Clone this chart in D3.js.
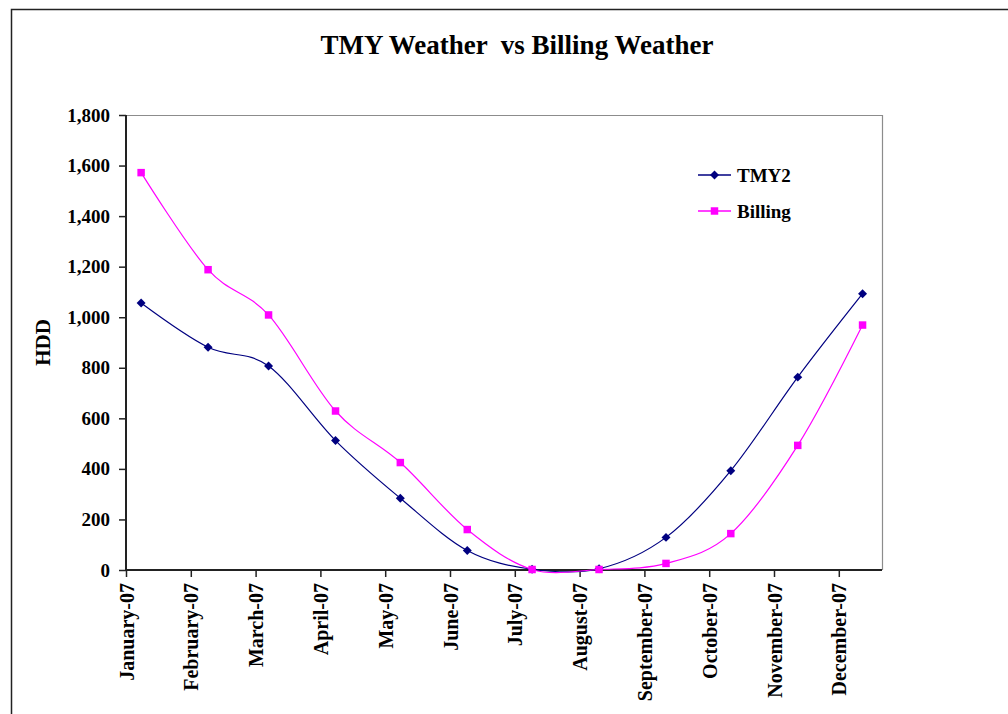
<!DOCTYPE html>
<html>
<head>
<meta charset="utf-8">
<script src="https://cdn.jsdelivr.net/npm/d3@7"></script>
<style>
  body { margin: 0; background: #fff; }
  svg text { font-family: "Liberation Serif", "Times New Roman", serif; font-weight: bold; fill: #000; }
</style>
</head>
<body>
<svg id="chart" width="1008" height="714"></svg>
<script>
// billing readings are dated mid-month; the axis steps every 30 days
const readDates = ['2007-01-15', '2007-02-15', '2007-03-15', '2007-04-15', '2007-05-15', '2007-06-15',
  '2007-07-15', '2007-08-15', '2007-09-15', '2007-10-15', '2007-11-15', '2007-12-15'];
const tmy2 = [1056, 881, 807, 512, 284, 77, 3, 5, 129, 393, 763, 1093];
const billing = [1572, 1188, 1009, 629, 425, 160, 2, 2, 26, 144, 493, 969];
const yTicks = [0, 200, 400, 600, 800, 1000, 1200, 1400, 1600, 1800];
const axisStart = '2007-01-08';
const axisEnd = '2007-12-24';
const tickStepDays = 30;

const parse = d3.utcParse('%Y-%m-%d');
const svg = d3.select('#chart');

const plot = { left: 126, top: 115, right: 882, bottom: 570 };

// outer chart frame (runs off the right and bottom of the picture)
svg.append('rect')
  .attr('x', 11.5).attr('y', 9.5)
  .attr('width', 1020).attr('height', 720)
  .attr('fill', 'none').attr('stroke', '#222').attr('stroke-width', 1.5);

svg.append('text')
  .attr('x', 517).attr('y', 54)
  .attr('text-anchor', 'middle')
  .style('font-size', '27px')
  .attr('xml:space', 'preserve')
  .text('TMY Weather  vs Billing Weather');

const x = d3.scaleUtc()
  .domain([parse(axisStart), parse(axisEnd)])
  .range([plot.left, plot.right]);

const y = d3.scaleLinear()
  .domain([0, 1800])
  .range([plot.bottom, plot.top]);

const xTickDates = d3.utcDay.every(1).range(parse(axisStart), parse(axisEnd))
  .filter(function (d, i) { return i % tickStepDays === 0; });

// plot area frame: grey top and right
svg.append('path')
  .attr('d', `M${plot.left},${plot.top + 0.5}H${plot.right + 0.5}V${plot.bottom}`)
  .attr('fill', 'none').attr('stroke', '#8c8c8c').attr('stroke-width', 1.2);

const yAxis = svg.append('g')
  .attr('transform', `translate(${plot.left},0)`)
  .call(d3.axisLeft(y).tickValues(yTicks).tickSize(7).tickPadding(9).tickFormat(d3.format(',')));

const xAxis = svg.append('g')
  .attr('transform', `translate(0,${plot.bottom})`)
  .call(d3.axisBottom(x).tickValues(xTickDates).tickSize(7).tickFormat(d3.utcFormat('%B-%y')));

[yAxis, xAxis].forEach(function (g) {
  g.select('.domain').attr('stroke', '#222').attr('stroke-width', 2);
  g.selectAll('.tick line').attr('stroke', '#222').attr('stroke-width', 1.5);
  g.selectAll('text').style('font-size', '19px').attr('fill', '#000');
});
yAxis.select('.domain').attr('d', `M0,${plot.top}V${plot.bottom}`);
xAxis.select('.domain').attr('d', `M${plot.left},0H${plot.right}`);

xAxis.selectAll('text')
  .style('font-size', '20px')
  .attr('text-anchor', 'end')
  .attr('transform', 'rotate(-90)')
  .attr('x', -13)
  .attr('y', 0)
  .attr('dy', '0.35em');

svg.append('text')
  .attr('transform', `translate(50,${(plot.top + plot.bottom) / 2}) rotate(-90)`)
  .attr('text-anchor', 'middle')
  .style('font-size', '21px')
  .text('HDD');

// Excel-style markers: diamond is a square turned 45 degrees
const series = [
  { name: 'TMY2', values: tmy2, color: '#000080', size: 40, turn: 45 },
  { name: 'Billing', values: billing, color: '#ff00ff', size: 56, turn: 0 }
];

const line = d3.line()
  .x(function (d) { return x(d.date); })
  .y(function (d) { return y(d.value); })
  .curve(d3.curveCardinal.tension(0));

series.forEach(function (s) {
  const pts = s.values.map(function (v, i) { return { date: parse(readDates[i]), value: v }; });
  svg.append('path')
    .datum(pts)
    .attr('d', line)
    .attr('fill', 'none')
    .attr('stroke', s.color)
    .attr('stroke-width', 1.2);
  svg.append('g').selectAll('path')
    .data(pts)
    .enter().append('path')
    .attr('transform', function (d) { return `translate(${x(d.date)},${y(d.value)}) rotate(${s.turn})`; })
    .attr('d', d3.symbol().type(d3.symbolSquare).size(s.size))
    .attr('fill', s.color);
});

// legend
const legend = svg.append('g').attr('transform', 'translate(698,175)');
series.forEach(function (s, i) {
  const row = legend.append('g').attr('transform', `translate(0,${i * 36})`);
  row.append('line')
    .attr('x1', 0).attr('x2', 33)
    .attr('stroke', s.color).attr('stroke-width', 1.5);
  row.append('path')
    .attr('transform', `translate(16.5,0) rotate(${s.turn})`)
    .attr('d', d3.symbol().type(d3.symbolSquare).size(s.size))
    .attr('fill', s.color);
  row.append('text')
    .attr('x', 39).attr('dy', '0.35em')
    .style('font-size', '19px')
    .text(s.name);
});
</script>
</body>
</html>
